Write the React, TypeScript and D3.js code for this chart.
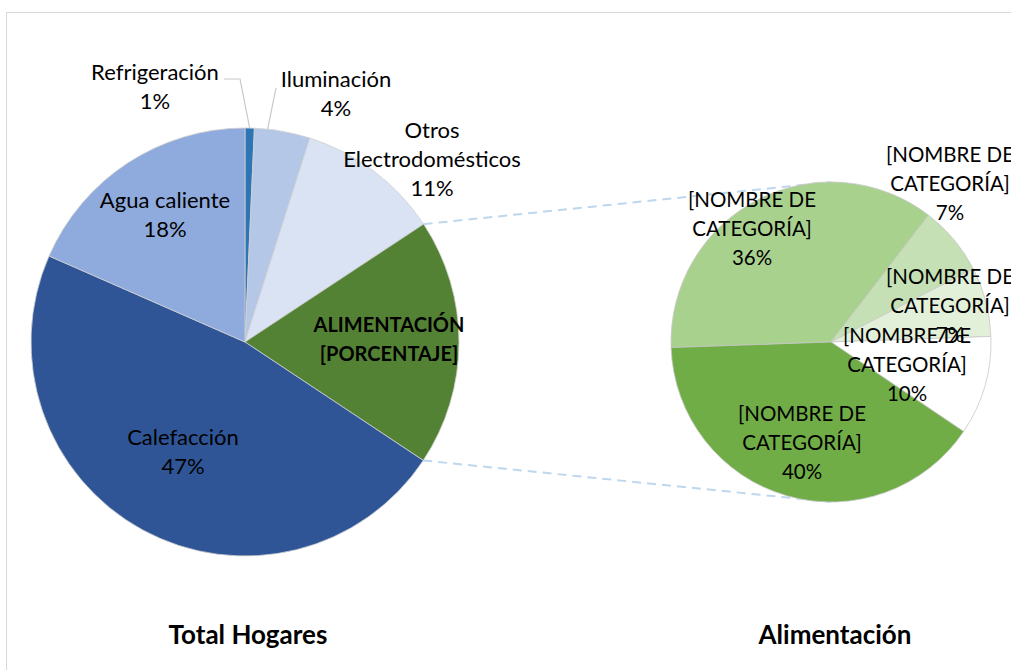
import React from "react";
import * as d3 from "d3";

// main pie: share of household energy use
const mainCategories = ["Refrigeración", "Iluminación", "Otros Electrodomésticos", "ALIMENTACIÓN", "Calefacción", "Agua caliente"];
const mainValues = [0.7, 4.2, 10.8, 18.6, 47.2, 18.4];
const mainColors = ["#2e75b6", "#b4c7e7", "#dae3f3", "#548235", "#2f5597", "#8faadc"];
// label lines as Excel drew them
const mainLabelLines = [
  ["Refrigeración", "1%"],
  ["Iluminación", "4%"],
  ["Otros", "Electrodomésticos", "11%"],
  ["ALIMENTACIÓN", "[PORCENTAJE]"],
  ["Calefacción", "47%"],
  ["Agua caliente", "18%"],
];

// second pie: breakdown of "Alimentación"
const subValues = [36, 7, 7, 10, 40];
const subColors = ["#a9d18e", "#c5e0b4", "#e2f0d9", "#ffffff", "#70ad47"];
const subPercent = ["36%", "7%", "7%", "10%", "40%"];

const W = 1011, H = 670;
const c1 = { x: 245, y: 342, r: 214 };
const c2 = { x: 831, y: 342, r: 160 };

// label offsets from pie centre (layout only)
const mainLabelPos = [[-90, -255], [91, -248], [187, -183], [144, -3], [-62, 110], [-80, -127]];
const subLabelPos = [[-79, -113], [119, -158], [119, -36], [76, 23], [-29, 101]];

const FONT = "Lato, 'DejaVu Sans', sans-serif";
const LH = 29;

export default function App() {
  const pie1 = d3.pie<number>().sort(null).value(d => d)(mainValues);
  const pie2 = d3.pie<number>().sort(null).value(d => d)
    .startAngle(-92 * Math.PI / 180).endAngle(268 * Math.PI / 180)(subValues);
  const arc1 = d3.arc<d3.PieArcDatum<number>>().innerRadius(0).outerRadius(c1.r);
  const arc2 = d3.arc<d3.PieArcDatum<number>>().innerRadius(0).outerRadius(c2.r);

  const edge = (a: number, r: number, c: { x: number; y: number }) =>
    [c.x + r * Math.sin(a), c.y - r * Math.cos(a)];

  const alim = pie1[3];
  const [tx, ty] = edge(alim.startAngle, c1.r, c1);
  const [bx, by] = edge(alim.endAngle, c1.r, c1);

  const block = (lines: string[], cx: number, cy: number, key: string, bold = false, size = 20) => (
    <text key={key} textAnchor="middle" fontFamily={FONT} fontSize={size} fontWeight={bold ? 700 : 400} fill="#000">
      {lines.map((l, i) => (
        <tspan key={i} x={cx} y={cy + (i - (lines.length - 1) / 2) * LH} dy="0.35em">{l}</tspan>
      ))}
    </text>
  );

  // leader lines for the two small slices
  const [rx, ry] = edge((pie1[0].startAngle + pie1[0].endAngle) / 2, c1.r, c1);
  const [ix, iy] = edge((pie1[1].startAngle + pie1[1].endAngle) / 2 - 0.07, c1.r, c1);

  return (
    <svg width={W} height={H} style={{ position: "absolute", left: 0, top: 0 }}>
      <rect x={6.5} y={12.5} width={W + 50} height={H + 50} fill="#fff" stroke="#d9d9d9" />

      <g stroke="#bdd7ee" strokeWidth={2} strokeDasharray="9,6" fill="none">
        <line x1={tx} y1={ty} x2={c2.x} y2={c2.y - c2.r} />
        <line x1={bx} y1={by} x2={c2.x} y2={c2.y + c2.r} />
      </g>

      <g>
        {pie1.map((d, i) => (
          <path key={mainCategories[i]} d={arc1(d) || ""} transform={`translate(${c1.x},${c1.y})`}
            fill={mainColors[i]} stroke="#d0d0d0" strokeWidth={0.8} />
        ))}
      </g>
      <g>
        {pie2.map((d, i) => (
          <path key={i} d={arc2(d) || ""} transform={`translate(${c2.x},${c2.y})`}
            fill={subColors[i]} stroke="#c8c8c8" strokeWidth={0.8} />
        ))}
      </g>

      <g stroke="#c8c8c8" strokeWidth={1.2} fill="none">
        <polyline points={`224,79 240,79 ${rx},${ry}`} />
        <polyline points={`276,88 ${ix},${iy}`} />
      </g>

      {mainLabelLines.map((lines, i) =>
        block(lines, c1.x + mainLabelPos[i][0], c1.y + mainLabelPos[i][1], "m" + i, i === 3, i === 3 ? 20 : 22)
      )}
      {subValues.map((_, i) =>
        block(["[NOMBRE DE", "CATEGORÍA]", subPercent[i]], c2.x + subLabelPos[i][0], c2.y + subLabelPos[i][1], "s" + i, false, 20.5)
      )}

      <text x={248} y={635} dy="0.35em" textAnchor="middle" fontFamily={FONT} fontSize={26} fontWeight={700}>Total Hogares</text>
      <text x={835} y={635} dy="0.35em" textAnchor="middle" fontFamily={FONT} fontSize={26} fontWeight={700}>Alimentación</text>
    </svg>
  );
}
